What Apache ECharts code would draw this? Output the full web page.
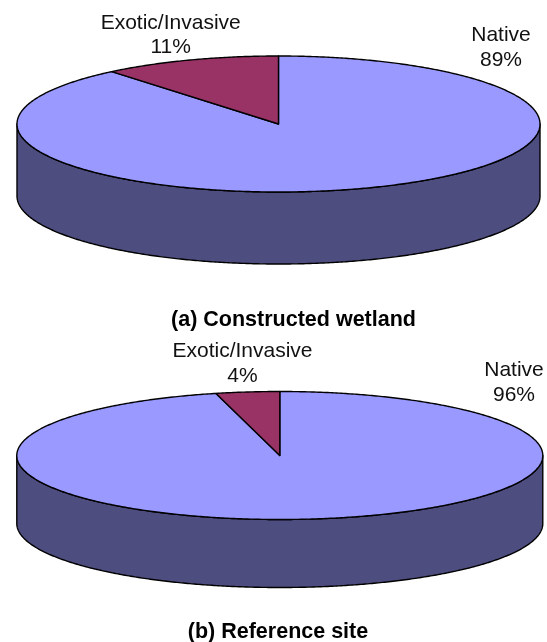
<!DOCTYPE html>
<html><head><meta charset="utf-8">
<style>html,body{margin:0;padding:0;background:#fff}#c{width:547px;height:642px}</style>
<script src="https://cdn.jsdelivr.net/npm/echarts@6/dist/echarts.min.js"></script>
</head><body><div id="c"></div>
<script>
const categories = ['Native', 'Exotic/Invasive'];
const wetlandValues = [89, 11];
const referenceValues = [96.1, 3.9];
const captions = ['(a) Constructed wetland', '(b) Reference site'];

const topColors = ['#9999ff', '#993366'];
const sideColors = ['#4d4d80', '#4d1a33'];
const FONT = '"Liberation Sans", Arial, sans-serif';

const pies = [
  { values: wetlandValues, cx: 278.5, cy: 124, rx: 261.5, ry: 68, depth: 72,
    labels: [[501, 47.5], [170.7, 35]], caption: [293.5, 320] },
  { values: referenceValues, cx: 279.8, cy: 455.5, rx: 263, ry: 64, depth: 68,
    labels: [[514, 382.5], [242.5, 363.5]], caption: [278, 632.5] }
];

function pt(p, deg, dy) {
  const a = deg * Math.PI / 180;
  return [p.cx + p.rx * Math.sin(a), p.cy - p.ry * Math.cos(a) + (dy || 0)];
}
function arc(p, from, to, dy) {
  const pts = [], n = Math.max(2, Math.ceil(Math.abs(to - from) * 2));
  for (let i = 0; i <= n; i++) pts.push(pt(p, from + (to - from) * i / n, dy));
  return pts;
}
function pieSeries(p) {
  const total = p.values.reduce((a, b) => a + b, 0);
  return {
    type: 'custom',
    silent: true,
    animation: false,
    coordinateSystem: 'none',
    clip: false,
    data: p.values.map((v, i) => ({ name: categories[i], value: [v, i] })),
    renderItem: function (params, api) {
      const v = api.value(0), i = api.value(1);
      let before = 0;
      for (let k = 0; k < i; k++) before += p.values[k];
      const start = before / total * 360, end = (before + v) / total * 360;
      const children = [];
      const sFrom = Math.max(start, 90), sTo = Math.min(end, 270);
      if (sTo > sFrom) {
        const upper = arc(p, sFrom, sTo, 0);
        const lower = arc(p, sTo, sFrom, p.depth);
        children.push({
          type: 'polygon', shape: { points: upper.concat(lower) },
          style: { fill: sideColors[i], stroke: '#000', lineWidth: 1.4, lineJoin: 'round' }
        });
      }
      const top = [[p.cx, p.cy]].concat(arc(p, start, end, 0));
      children.push({
        type: 'polygon', shape: { points: top },
        style: { fill: topColors[i], stroke: '#000', lineWidth: 1.4, lineJoin: 'round' }
      });
      children.push({
        type: 'text', z2: 10,
        style: {
          x: p.labels[i][0], y: p.labels[i][1],
          text: categories[i] + '\n' + Math.round(v / total * 100) + '%',
          fill: '#111', font: '21px ' + FONT, align: 'center', verticalAlign: 'middle', lineHeight: 24.5
        }
      });
      return { type: 'group', children: children };
    }
  };
}
const chart = echarts.init(document.getElementById('c'), null, { renderer: 'canvas' });
chart.setOption({
  backgroundColor: '#fff',
  animation: false,
  title: pies.map((p, i) => ({
    text: captions[i], left: p.caption[0], top: p.caption[1], textAlign: 'center', textVerticalAlign: 'middle',
    padding: 0,
    textStyle: { fontFamily: FONT, fontSize: 21.5, fontWeight: 'bold', color: '#000' }
  })),
  series: pies.map(pieSeries)
});
</script></body></html>
